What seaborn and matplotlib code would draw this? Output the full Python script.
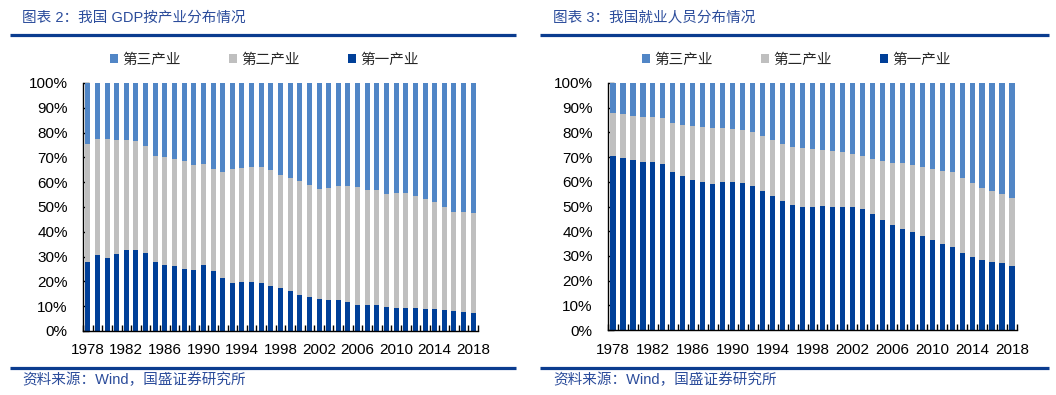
import numpy as np
import pandas as pd
import matplotlib
matplotlib.use("Agg")
import matplotlib.pyplot as plt
from matplotlib.patches import Patch
from matplotlib.lines import Line2D
from matplotlib.ticker import FixedLocator, PercentFormatter
import seaborn as sns

years = list(range(1978, 2019))
tick_years = [str(y) for y in range(1978, 2019, 4)]

# GDP share by industry (%)
gdp_primary = [27.7, 30.5, 29.6, 31.2, 32.6, 32.6, 31.4, 27.8, 26.5, 26.1,
               25.2, 24.5, 26.5, 24.0, 21.2, 19.2, 19.6, 19.6, 19.2, 18.0,
               17.2, 16.0, 14.4, 13.9, 13.1, 12.3, 12.7, 11.5, 10.4, 10.3,
               10.3, 9.5, 9.4, 9.2, 9.1, 9.0, 8.9, 8.6, 8.0, 7.6, 7.1]
gdp_secondary = [47.6, 47.1, 48.0, 46.0, 44.6, 44.2, 43.0, 42.9, 43.5, 43.4,
                 43.5, 42.6, 41.0, 41.5, 43.1, 46.3, 46.0, 46.7, 47.1, 47.1,
                 45.6, 45.5, 45.9, 44.8, 44.3, 45.5, 45.9, 47.1, 47.8, 46.7,
                 46.7, 45.9, 46.4, 46.6, 45.5, 44.4, 43.3, 41.3, 40.1, 40.5, 40.6]
gdp_tertiary = [24.7, 22.4, 22.4, 22.8, 22.8, 23.2, 25.6, 29.3, 30.0, 30.5,
                31.3, 32.9, 32.5, 34.5, 35.7, 34.5, 34.4, 33.7, 33.7, 34.9,
                37.2, 38.5, 39.7, 41.3, 42.6, 42.2, 41.4, 41.4, 41.8, 43.0,
                43.0, 44.6, 44.2, 44.2, 45.4, 46.6, 47.8, 50.1, 51.9, 51.9, 52.3]

# Employment share by industry (%)
emp_primary = [70.3, 69.6, 68.7, 68.0, 68.0, 67.1, 63.9, 62.3, 60.7, 59.9,
               59.1, 59.9, 59.9, 59.5, 58.3, 56.2, 54.2, 52.2, 50.6, 49.8,
               49.8, 50.1, 49.8, 49.8, 49.8, 48.9, 46.9, 44.5, 42.5, 40.8,
               39.6, 38.0, 36.4, 34.8, 33.5, 31.1, 29.5, 28.3, 27.5, 27.0, 25.8]
emp_secondary = [17.6, 17.9, 18.0, 18.2, 18.2, 18.7, 19.9, 20.7, 21.9, 22.3,
                 22.7, 21.9, 21.5, 21.5, 21.9, 22.3, 22.7, 23.1, 23.5, 23.9,
                 23.5, 22.8, 22.7, 22.3, 21.4, 21.5, 22.3, 23.9, 25.1, 26.8,
                 27.2, 28.0, 28.8, 29.6, 30.4, 30.4, 30.0, 29.2, 28.7, 28.0, 27.6]
emp_tertiary = [12.1, 12.5, 13.3, 13.8, 13.8, 14.2, 16.2, 17.0, 17.4, 17.8,
                18.2, 18.2, 18.6, 19.0, 19.8, 21.5, 23.1, 24.7, 25.9, 26.3,
                26.7, 27.1, 27.5, 27.9, 28.8, 29.6, 30.8, 31.6, 32.4, 32.4,
                33.2, 34.0, 34.8, 35.6, 36.1, 38.5, 40.5, 42.5, 43.8, 45.0, 46.6]

series_names = ["第三产业", "第二产业", "第一产业"]
titles = ["图表 2：我国 GDP按产业分布情况", "图表 3：我国就业人员分布情况"]
source = "资料来源：Wind，国盛证券研究所"

c_tert = "#5186C6"
c_sec = "#BFBFBF"
c_pri = "#003F98"
c_title = "#2B4C9B"
c_rule = "#0B3C8F"

sns.set_theme(style="white")
plt.rcParams["font.family"] = ["Liberation Sans", "Noto Sans CJK SC", "DejaVu Sans"]
plt.rcParams["axes.unicode_minus"] = False

W, H = 1056, 395
fig = plt.figure(figsize=(W / 100, H / 100), dpi=100)


def fx(px):
    return px / W


def fy(py):
    return 1 - py / H


panels = [
    dict(data=(gdp_primary, gdp_secondary, gdp_tertiary), ax=(83, 83, 478, 331),
         rule=(10, 516), text_x=22),
    dict(data=(emp_primary, emp_secondary, emp_tertiary), ax=(608, 83, 1017, 330),
         rule=(540, 1049), text_x=553),
]

for i, p in enumerate(panels):
    pri, sec, ter = p["data"]
    df = pd.DataFrame({"year": [str(y) for y in years],
                       "primary": pri, "secondary": sec, "tertiary": ter})
    df["lvl2"] = df["primary"] + df["secondary"]
    df["lvl3"] = df["lvl2"] + df["tertiary"]
    x0, y0, x1, y1 = p["ax"]
    ax = fig.add_axes([fx(x0), fy(y1), fx(x1) - fx(x0), fy(y0) - fy(y1)])
    for col, c in (("lvl3", c_tert), ("lvl2", c_sec), ("primary", c_pri)):
        sns.barplot(data=df, x="year", y=col, color=c, width=0.52,
                    saturation=1, ax=ax, errorbar=None, linewidth=0)
    ax.set_xlim(-0.5, len(years) - 0.5)
    ax.set_ylim(0, 100)
    ax.set_xlabel("")
    ax.set_ylabel("")
    ax.yaxis.set_major_locator(FixedLocator(np.arange(0, 101, 10)))
    ax.yaxis.set_major_formatter(PercentFormatter(decimals=0))
    pos = [k for k, y in enumerate(years) if str(y) in tick_years]
    ax.xaxis.set_major_locator(FixedLocator(pos))
    ax.set_xticklabels(tick_years)
    ax.xaxis.set_minor_locator(FixedLocator(np.arange(-0.5, len(years), 1.0)))
    ax.tick_params(axis="x", which="major", length=0, pad=9, labelsize=11,
                   labelcolor="black")
    ax.tick_params(axis="x", which="minor", direction="in", length=4,
                   width=1, color="black", bottom=True)
    ax.tick_params(axis="y", which="major", direction="in", length=4,
                   width=1, color="black", left=True, pad=11, labelsize=11,
                   labelcolor="black")
    for s in ("top", "right"):
        ax.spines[s].set_visible(False)
    for s in ("left", "bottom"):
        ax.spines[s].set_color("black")
        ax.spines[s].set_linewidth(1)
    ax.grid(False)

    handles = [Patch(facecolor=c, edgecolor="none") for c in (c_tert, c_sec, c_pri)]
    cx = (fx(x0) + fx(x1)) / 2 - fx(16)
    fig.legend(handles, series_names, loc="center", bbox_to_anchor=(cx, fy(60)),
               ncol=3, frameon=False, fontsize=10.5, handlelength=0.55,
               handleheight=0.55, handletextpad=0.3, columnspacing=3.3,
               borderaxespad=0, borderpad=0)

    r0, r1 = p["rule"]
    fig.add_artist(Line2D([fx(r0), fx(r1)], [fy(34.5), fy(34.5)],
                          color=c_rule, lw=2.3, solid_capstyle="butt"))
    fig.add_artist(Line2D([fx(r0), fx(r1)], [fy(368), fy(368)],
                          color=c_rule, lw=2.3, solid_capstyle="butt"))
    fig.text(fx(p["text_x"]), fy(18), titles[i], ha="left", va="center",
             fontsize=10.5, color=c_title)
    fig.text(fx(p["text_x"]), fy(380), source, ha="left", va="center",
             fontsize=10.5, color=c_title)

fig.savefig("out.png", dpi=100)
